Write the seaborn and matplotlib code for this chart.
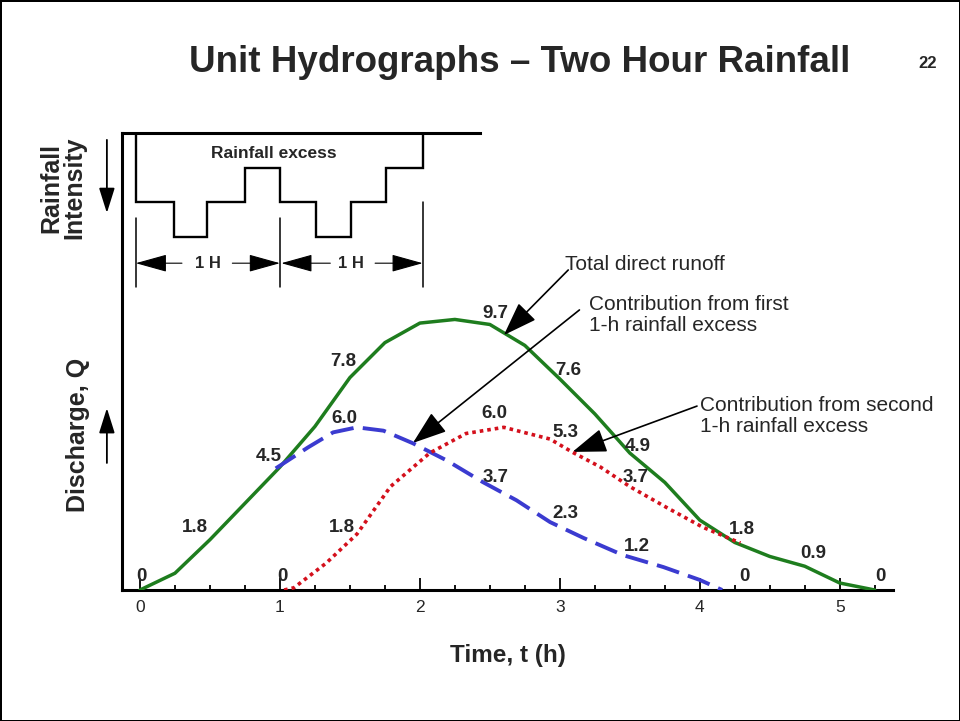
import numpy as np
import pandas as pd
import matplotlib
matplotlib.use("Agg")
import matplotlib.pyplot as plt
from matplotlib.ticker import MultipleLocator, FixedLocator
import seaborn as sns

# Total direct runoff (every quarter hour)
green_t = [0, 0.25, 0.5, 0.75, 1.0, 1.25, 1.5, 1.75, 2.0, 2.25, 2.5, 2.75,
           3.0, 3.25, 3.5, 3.75, 4.0, 4.25, 4.5, 4.75, 5.0, 5.25]
green_q = [0, 0.6, 1.8, 3.1, 4.4, 5.85, 7.6, 8.85, 9.55, 9.68, 9.5, 8.75,
           7.55, 6.3, 4.9, 3.85, 2.5, 1.7, 1.2, 0.85, 0.25, 0]

# contribution from first 1-h rainfall excess (drawn from t~1)
blue_t = [0.97, 1.2, 1.38, 1.55, 1.74, 1.95, 2.19, 2.45, 2.69, 2.93, 3.17, 3.45, 3.74, 4.0, 4.16]
blue_q = [4.35, 5.1, 5.64, 5.82, 5.7, 5.25, 4.64, 3.86, 3.21, 2.43, 1.86, 1.25, 0.82, 0.36, 0]

# contribution from second 1-h rainfall excess
red_t = [1.03, 1.1, 1.33, 1.55, 1.79, 2.07, 2.33, 2.6, 2.93, 3.09, 3.29, 3.5, 3.76, 4.02, 4.29]
red_q = [0, 0.08, 0.96, 2.0, 3.7, 4.9, 5.6, 5.82, 5.4, 4.93, 4.4, 3.7, 2.96, 2.25, 1.68]

# value labels (t, Q, text)
green_labels = [(0.01, 0.47, "0"), (0.39, 2.22, "1.8"), (0.92, 4.79, "4.5"), (1.45, 8.16, "7.8"),
                (2.54, 9.91, "9.7"), (3.06, 7.87, "7.6"), (3.56, 5.15, "4.9"), (4.30, 2.18, "1.8"),
                (4.81, 1.32, "0.9"), (5.29, 0.47, "0")]
blue_labels = [(1.46, 6.15, "6.0"), (2.54, 4.04, "3.7"), (3.04, 2.72, "2.3"),
               (3.55, 1.57, "1.2"), (4.32, 0.47, "0")]
red_labels = [(1.02, 0.47, "0"), (1.44, 2.22, "1.8"), (2.53, 6.30, "6.0"),
              (3.04, 5.65, "5.3"), (3.54, 4.04, "3.7")]

# hyetograph: step edges (h) and relative intensity
rain_edges = [-0.03, 0.24, 0.48, 0.75, 1.0, 1.26, 1.51, 1.76, 2.02]
rain_intensity = [2, 3, 2, 1, 2, 3, 2, 1]

x_ticks = [0, 1, 2, 3, 4, 5]

sns.set_theme(style="white")
plt.rcParams["font.family"] = ["Liberation Sans", "DejaVu Sans"]

GREEN = "#1e7d1e"
BLUE = "#3b3bd0"
RED = "#d4101c"

fig = plt.figure(figsize=(9.6, 7.21), dpi=100)
fig.patch.set_facecolor("white")
fig.patch.set_edgecolor("black")
fig.patch.set_linewidth(2)
ax = fig.add_axes([0.127, 0.1817, 0.803, 0.6338])

runoff = pd.DataFrame({"t": green_t, "Q": green_q})
first = pd.DataFrame({"t": blue_t, "Q": blue_q})
second = pd.DataFrame({"t": red_t, "Q": red_q})

sns.lineplot(data=runoff, x="t", y="Q", ax=ax, color=GREEN, lw=2.5,
             estimator=None, sort=False, zorder=3)
sns.lineplot(data=first, x="t", y="Q", ax=ax, color=BLUE, lw=2.8,
             linestyle=(0, (6, 2.4)), estimator=None, sort=False, zorder=4)
sns.lineplot(data=second, x="t", y="Q", ax=ax, color=RED, lw=2.6,
             linestyle=(0, (1, 1.1)), estimator=None, sort=False, zorder=4)

for labels in (green_labels, blue_labels, red_labels):
    for t, q, s in labels:
        ax.text(t, q, s, ha="center", va="center", fontsize=13.5,
                fontweight="bold", zorder=6)

ax.set_xlim(-0.129, 5.379)
ax.set_ylim(0, 16.35)
ax.set_xlabel("")
ax.set_ylabel("")
ax.xaxis.set_major_locator(FixedLocator(x_ticks))
ax.xaxis.set_minor_locator(MultipleLocator(0.25))
ax.set_yticks([])
ax.tick_params(axis="x", which="major", direction="in", length=8.5, width=1.3,
               color="black", labelsize=12.5, pad=7, bottom=True)
ax.tick_params(axis="x", which="minor", direction="in", length=3.6, width=1.3,
               color="black", bottom=True)
for side in ("left", "bottom", "top"):
    ax.spines[side].set_visible(True)
    ax.spines[side].set_color("black")
    ax.spines[side].set_linewidth(2.2)
ax.spines["right"].set_visible(False)
ax.spines["top"].set_bounds(-0.129, 2.43)

ax.set_xlabel("Time, t (h)", fontsize=17.5, fontweight="bold")
ax.xaxis.set_label_coords(0.5006, -0.118)

ax.text(-0.057, 0.339, "Discharge, Q", transform=ax.transAxes, rotation=90,
        ha="center", va="center", fontsize=18, fontweight="bold")
ax.text(-0.0765, 0.88, "Rainfall\nIntensity", transform=ax.transAxes, rotation=90,
        ha="center", va="center", fontsize=18, fontweight="bold", linespacing=0.95)

arrow_big = dict(arrowstyle="-|>,head_length=0.7,head_width=0.22", color="black",
                 lw=1.3, mutation_scale=22, shrinkA=0, shrinkB=0)
ax.annotate("", xy=(-0.0195, 0.825), xytext=(-0.0195, 0.985), xycoords="axes fraction",
            textcoords="axes fraction", arrowprops=arrow_big, annotation_clip=False)
ax.annotate("", xy=(-0.0195, 0.398), xytext=(-0.0195, 0.278), xycoords="axes fraction",
            textcoords="axes fraction", arrowprops=arrow_big, annotation_clip=False)

# hyetograph on an inverted twin axis
ax2 = ax.twinx()
ax2.set_ylim(13.2, 0)
ax2.set_yticks([])
for s in ax2.spines.values():
    s.set_visible(False)
ax2.stairs(rain_intensity, rain_edges, baseline=0, color="black", lw=1.7)
ax2.text(0.957, 0.58, "Rainfall excess", ha="center", va="center", fontsize=12.5,
         fontweight="bold")

for t, y0 in ((rain_edges[0], 2.46), (rain_edges[4], 2.46), (rain_edges[-1], 2.0)):
    ax2.plot([t, t], [y0, 4.45], color="black", lw=1.1)

dim_arrow = dict(arrowstyle="-|>,head_length=0.9,head_width=0.25", color="black",
                 lw=0.8, mutation_scale=22, shrinkA=0, shrinkB=0)
ax2.annotate("", xy=(rain_edges[0], 3.76), xytext=(0.30, 3.76), arrowprops=dim_arrow)
ax2.annotate("", xy=(rain_edges[4], 3.76), xytext=(0.66, 3.76), arrowprops=dim_arrow)
ax2.annotate("", xy=(rain_edges[4] + 0.01, 3.76), xytext=(1.36, 3.76), arrowprops=dim_arrow)
ax2.annotate("", xy=(rain_edges[-1], 3.76), xytext=(1.68, 3.76), arrowprops=dim_arrow)
ax2.text(0.486, 3.76, "1 H", ha="center", va="center", fontsize=12, fontweight="bold")
ax2.text(1.51, 3.76, "1 H", ha="center", va="center", fontsize=12, fontweight="bold")

# callouts
call_arrow = dict(arrowstyle="-|>,head_length=0.85,head_width=0.3", color="black",
                  lw=1.2, mutation_scale=25, shrinkA=0, shrinkB=0)
ax.annotate("", xy=(2.6, 9.12), xytext=(3.06, 11.45), arrowprops=call_arrow)
ax.text(3.04, 11.66, "Total direct runoff", ha="left", va="center", fontsize=15)
ax.annotate("", xy=(1.95, 5.26), xytext=(3.14, 10.02), arrowprops=call_arrow)
ax.text(3.21, 9.84, "Contribution from first\n1-h rainfall excess", ha="left",
        va="center", fontsize=15, linespacing=1.1)
ax.annotate("", xy=(3.09, 4.94), xytext=(3.98, 6.58), arrowprops=call_arrow)
ax.text(4.0, 6.23, "Contribution from second\n1-h rainfall excess", ha="left",
        va="center", fontsize=15, linespacing=1.1)

fig.text(0.5417, 0.914, "Unit Hydrographs \u2013 Two Hour Rainfall", ha="center",
         va="center", fontsize=26.5, fontweight="bold")
fig.text(0.966, 0.912, "22", ha="center", va="center", fontsize=12, fontweight="bold")

fig.savefig("out.png", dpi=100, facecolor=fig.get_facecolor(), edgecolor=fig.get_edgecolor())
